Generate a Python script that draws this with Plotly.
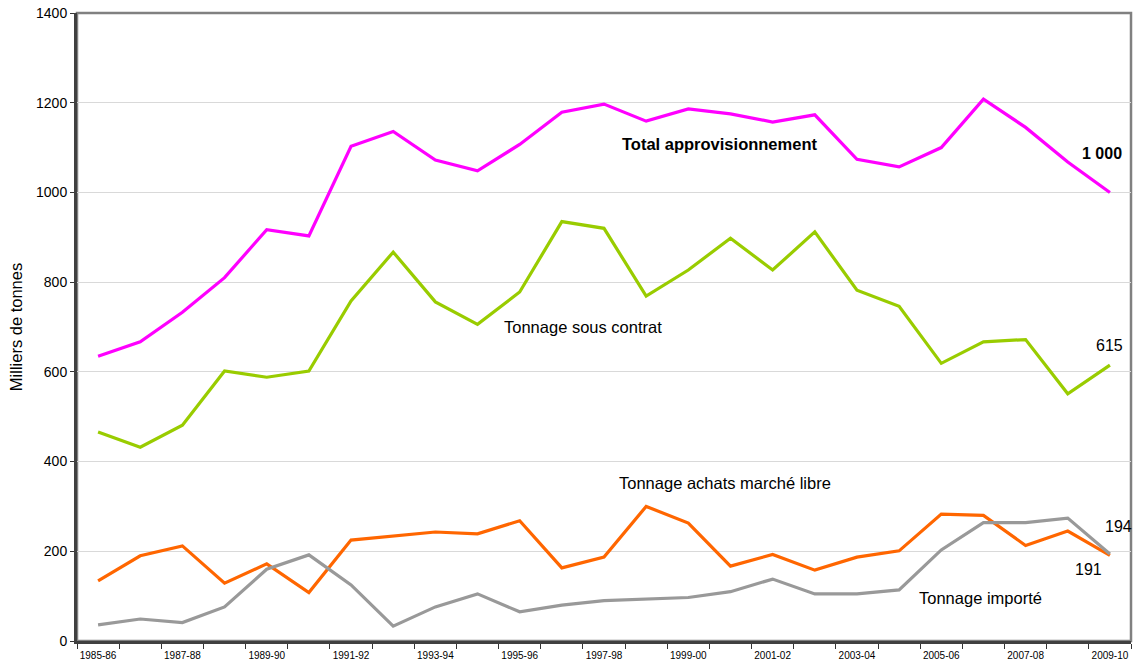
import plotly.graph_objects as go

seasons = ["1985-86", "1986-87", "1987-88", "1988-89", "1989-90", "1990-91", "1991-92",
           "1992-93", "1993-94", "1994-95", "1995-96", "1996-97", "1997-98", "1998-99",
           "1999-00", "2000-01", "2001-02", "2002-03", "2003-04", "2004-05", "2005-06",
           "2006-07", "2007-08", "2008-09", "2009-10"]

total_appro = [635, 667, 733, 810, 917, 903, 1103, 1136, 1072, 1048, 1107, 1179, 1197, 1159,
               1186, 1175, 1157, 1173, 1074, 1057, 1100, 1208, 1145, 1068, 1000]
sous_contrat = [466, 432, 481, 602, 588, 602, 758, 867, 756, 706, 778, 935, 920, 769,
                827, 898, 827, 912, 782, 746, 619, 667, 672, 551, 615]
marche_libre = [134, 190, 212, 129, 172, 108, 225, 234, 243, 239, 268, 163, 187, 300,
                263, 167, 193, 158, 187, 201, 283, 280, 213, 245, 191]
importe = [36, 49, 41, 76, 160, 192, 125, 33, 76, 105, 65, 80, 90, 94,
           97, 110, 138, 105, 105, 114, 203, 264, 264, 274, 194]

tick_text = [s if i % 2 == 0 else "" for i, s in enumerate(seasons)]
y_ticks = [0, 200, 400, 600, 800, 1000, 1200, 1400]

series = [
    ("Total approvisionnement", total_appro, "#FF00FF"),
    ("Tonnage sous contrat", sous_contrat, "#99CC00"),
    ("Tonnage achats marché libre", marche_libre, "#FF6600"),
    ("Tonnage importé", importe, "#999999"),
]

fig = go.Figure()
for name, vals, col in series:
    fig.add_trace(go.Scatter(x=seasons, y=vals, mode="lines", name=name,
                             line=dict(color=col, width=3.2), hoverinfo="x+y+name"))

FONT = "Liberation Sans, Arial, sans-serif"
W, H = 1136, 661
L, R, T, B = 77, 5, 13, 20
pw, ph = W - L - R, H - T - B

def px(xp):
    return (xp - L) / pw

def py(yp):
    return (H - B - yp) / ph

annotations = [
    dict(text="<b>Total approvisionnement</b>", x=px(719), y=py(144)),
    dict(text="Tonnage sous contrat", x=px(583), y=py(327)),
    dict(text="Tonnage achats marché libre", x=px(725), y=py(483)),
    dict(text="Tonnage importé", x=px(980), y=py(598)),
]
for a in annotations:
    a.update(xref="paper", yref="paper", showarrow=False, xanchor="center", yanchor="middle",
             font=dict(family=FONT, size=16.5, color="#000000"))

last = seasons[-1]
annotations += [
    dict(x=last, y=total_appro[-1], text="<b>%s</b>" % "{:,}".format(total_appro[-1]).replace(",", " "),
         xanchor="right", yanchor="middle", xshift=14, yshift=39),
    dict(x=last, y=sous_contrat[-1], text=str(sous_contrat[-1]),
         xanchor="right", yanchor="middle", xshift=15, yshift=20),
    dict(x=last, y=importe[-1], text=str(importe[-1]),
         xanchor="left", yanchor="middle", xshift=-7, yshift=27),
    dict(x=last, y=marche_libre[-1], text=str(marche_libre[-1]),
         xanchor="right", yanchor="middle", xshift=-6, yshift=-14),
]
for a in annotations[4:]:
    a.update(xref="x", yref="y", showarrow=False, font=dict(family=FONT, size=16, color="#000000"))

fig.update_layout(
    width=W, height=H,
    margin=dict(l=L, r=R, t=T, b=B, pad=0, autoexpand=False),
    paper_bgcolor="white", plot_bgcolor="white",
    showlegend=False,
    font=dict(family=FONT, color="#000000"),
    annotations=annotations,
    shapes=[dict(type="rect", xref="paper", yref="paper", x0=0, x1=1, y0=0, y1=1,
                 line=dict(color="#808080", width=2.5), layer="below")],
    xaxis=dict(
        type="category", categoryorder="array", categoryarray=seasons,
        range=[-0.5, len(seasons) - 0.5], automargin=False,
        tickmode="array", tickvals=seasons, ticktext=tick_text,
        tickson="boundaries", ticks="outside", ticklen=5, tickwidth=1, tickcolor="#333333",
        ticklabelstandoff=3,
        showgrid=False, zeroline=False,
        showline=True, linecolor="#404040", linewidth=3,
        tickfont=dict(family=FONT, size=10, color="#000000"),
        tickangle=0,
    ),
    yaxis=dict(
        range=[0, 1400], tickmode="array", tickvals=y_ticks, automargin=False,
        ticks="outside", ticklen=4, tickwidth=1, tickcolor="#333333",
        showgrid=True, gridcolor="#D9D9D9", gridwidth=1,
        zeroline=False, showline=True, linecolor="#404040", linewidth=3,
        tickfont=dict(family=FONT, size=14, color="#000000"),
        title=dict(text="Milliers de tonnes", font=dict(family=FONT, size=16.5, color="#000000"),
                   standoff=10),
    ),
)

fig.write_html("out.html", config={"displayModeBar": False},
               post_script="document.body.style.margin='0';")
